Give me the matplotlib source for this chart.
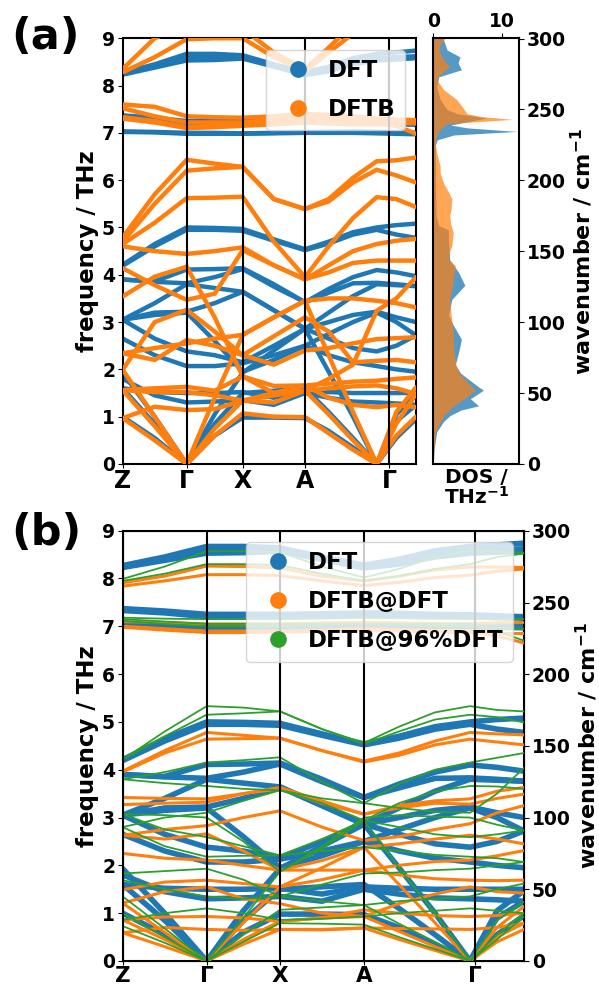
import numpy as np
import matplotlib
matplotlib.use("Agg")
import matplotlib.pyplot as plt
from matplotlib.lines import Line2D

plt.rcParams['font.family'] = ['DejaVu Sans']
plt.rcParams['font.weight'] = 'bold'
plt.rcParams['axes.labelweight'] = 'bold'
plt.rcParams['mathtext.fontset'] = 'dejavusans'
plt.rcParams['mathtext.default'] = 'bf'

THZ_TO_CM = 33.356

# ---- k-path (fractional position along path, and path distances) ----
K_FRAC = [0, 0.5, 1, 1.5, 2, 2.5, 3, 3.33, 3.67, 4, 4.5, 5]
PATH_A = [0, 64, 120, 182.3, 254, 293.3]
PATH_B = [0, 84, 157.3, 241.3, 347.3, 401.3]
TICKS_A = [0, 64, 120, 182.3, 266.3]
TICKS_B = [0, 84, 157.3, 241.3, 352.3]
TICK_LABELS = ['Z', 'Γ', 'X', 'A', 'Γ']

# ---- band frequencies (THz) at K_FRAC ----
DFT_BANDS = [
    [1.00, 0.55, 0.00, 0.60, 0.98, 0.98, 0.97, 0.70, 0.35, 0.00, 0.55, 0.95],
    [1.60, 0.85, 0.00, 0.85, 1.50, 1.55, 1.60, 1.10, 0.55, 0.00, 0.90, 1.25],
    [1.93, 1.00, 0.00, 1.05, 1.93, 2.40, 2.86, 1.95, 1.00, 0.00, 1.05, 1.47],
    [1.80, 1.45, 1.30, 1.32, 1.35, 1.25, 1.50, 1.40, 1.32, 1.30, 1.28, 1.25],
    [1.60, 1.52, 1.50, 1.50, 1.52, 1.40, 1.55, 1.52, 1.50, 1.50, 1.50, 1.50],
    [2.65, 2.30, 2.07, 2.07, 2.13, 2.30, 2.50, 2.30, 2.15, 2.07, 2.00, 1.95],
    [3.05, 2.65, 2.38, 2.30, 2.15, 2.50, 2.86, 2.65, 2.45, 2.38, 2.50, 2.72],
    [3.05, 3.15, 3.20, 2.60, 1.95, 2.20, 2.50, 2.75, 3.00, 3.20, 3.00, 2.72],
    [3.05, 3.20, 3.22, 3.40, 3.64, 3.25, 2.86, 3.00, 3.15, 3.22, 3.10, 3.00],
    [3.05, 3.40, 3.80, 3.72, 3.64, 3.25, 2.86, 3.20, 3.55, 3.80, 3.78, 3.76],
    [3.90, 3.86, 4.11, 4.12, 4.14, 3.80, 3.42, 3.70, 3.95, 4.10, 4.05, 3.97],
    [3.90, 3.85, 3.82, 3.95, 4.12, 3.75, 3.42, 3.62, 3.82, 3.83, 3.80, 3.76],
    [4.21, 4.65, 5.00, 4.99, 4.97, 4.75, 4.54, 4.70, 4.90, 5.00, 5.05, 5.08],
    [4.19, 4.60, 4.95, 4.95, 4.93, 4.72, 4.52, 4.66, 4.85, 4.95, 4.85, 4.78],
    [7.03, 7.02, 7.00, 7.00, 6.99, 7.00, 7.01, 7.02, 7.03, 7.02, 7.00, 7.00],
    [7.02, 7.01, 6.98, 6.98, 6.98, 6.99, 7.00, 7.00, 7.00, 6.99, 6.98, 6.97],
    [7.37, 7.32, 7.25, 7.25, 7.25, 7.26, 7.28, 7.27, 7.25, 7.24, 7.22, 7.20],
    [7.33, 7.28, 7.20, 7.20, 7.20, 7.20, 7.22, 7.21, 7.20, 7.20, 7.18, 7.17],
    [8.27, 8.45, 8.67, 8.67, 8.64, 8.45, 8.28, 8.40, 8.58, 8.67, 8.70, 8.74],
    [8.25, 8.40, 8.58, 8.58, 8.60, 8.42, 8.25, 8.35, 8.50, 8.58, 8.60, 8.62],
    [8.23, 8.38, 8.53, 8.54, 8.57, 8.40, 8.22, 8.30, 8.45, 8.53, 8.55, 8.58],
]

DFTB_BANDS = [
    [0.97, 0.50, 0.00, 0.60, 1.07, 1.00, 0.99, 0.65, 0.30, 0.00, 0.60, 1.00],
    [1.56, 0.80, 0.00, 0.75, 1.34, 1.45, 1.55, 1.05, 0.50, 0.00, 0.85, 1.48],
    [1.99, 1.00, 0.00, 1.40, 2.73, 3.10, 3.45, 2.30, 1.10, 0.00, 1.10, 1.62],
    [0.97, 1.21, 1.14, 1.16, 1.34, 1.50, 1.66, 1.40, 1.25, 1.20, 1.25, 1.20],
    [1.56, 1.60, 1.63, 1.55, 1.85, 1.65, 1.66, 1.70, 1.74, 1.76, 1.80, 1.83],
    [1.56, 1.52, 1.52, 1.45, 1.34, 1.30, 1.55, 1.60, 1.64, 1.66, 1.60, 1.48],
    [2.34, 2.20, 2.62, 2.50, 2.30, 2.70, 3.10, 2.80, 2.15, 2.18, 2.20, 2.15],
    [1.99, 3.00, 3.26, 2.80, 2.30, 2.10, 2.40, 2.45, 2.55, 2.64, 2.66, 2.68],
    [2.34, 2.45, 2.55, 2.65, 2.73, 3.10, 3.45, 3.50, 3.50, 3.45, 3.40, 3.31],
    [3.54, 3.96, 4.17, 3.10, 1.85, 1.50, 1.55, 1.80, 2.10, 3.24, 3.50, 3.95],
    [4.14, 3.78, 3.47, 3.60, 4.52, 4.20, 3.91, 4.05, 4.25, 4.30, 4.30, 4.30],
    [4.60, 4.50, 4.44, 4.50, 4.58, 4.20, 3.90, 4.20, 4.50, 4.65, 4.72, 4.76],
    [4.79, 5.70, 6.43, 6.35, 6.28, 5.60, 5.39, 5.60, 6.05, 6.40, 6.42, 6.48],
    [4.70, 5.50, 6.20, 6.25, 6.28, 5.60, 5.39, 5.55, 5.95, 6.22, 6.10, 5.95],
    [4.65, 5.10, 5.62, 5.63, 5.65, 4.70, 3.95, 4.60, 5.20, 5.64, 5.60, 5.43],
    [7.60, 7.55, 7.35, 7.33, 7.32, 7.35, 7.40, 7.38, 7.35, 7.30, 7.28, 7.27],
    [7.52, 7.35, 7.22, 7.22, 7.22, 7.28, 7.32, 7.30, 7.28, 7.25, 7.22, 7.20],
    [7.33, 7.25, 7.12, 7.15, 7.18, 7.20, 7.25, 7.22, 7.20, 7.20, 7.15, 6.98],
    [7.30, 7.22, 7.10, 7.12, 7.15, 7.18, 7.22, 7.20, 7.18, 7.18, 7.20, 7.22],
    [8.35, 9.00, 9.30, 9.30, 9.20, 8.70, 8.35, 8.80, 9.30, 9.50, 9.50, 9.50],
    [8.28, 8.60, 8.98, 9.00, 9.00, 8.60, 8.30, 8.70, 9.10, 9.30, 9.30, 9.30],
]

DFTB_AT_DFT_BANDS = [
    [0.59, 0.30, 0.00, 0.35, 0.66, 0.65, 0.69, 0.45, 0.22, 0.00, 0.40, 0.66],
    [0.86, 0.45, 0.00, 0.45, 0.83, 0.90, 0.93, 0.62, 0.30, 0.00, 0.50, 0.79],
    [1.21, 0.60, 0.00, 0.80, 1.55, 1.95, 2.38, 1.60, 0.80, 0.00, 0.70, 1.14],
    [0.59, 0.70, 0.66, 0.64, 0.66, 0.66, 0.69, 0.68, 0.67, 0.66, 0.70, 0.79],
    [0.86, 0.92, 0.93, 0.90, 0.83, 0.90, 1.07, 1.00, 0.95, 0.93, 0.95, 1.00],
    [1.21, 1.45, 1.55, 1.30, 1.20, 1.00, 0.93, 1.20, 1.40, 1.55, 1.45, 1.42],
    [1.49, 1.65, 1.69, 1.62, 1.55, 1.70, 1.90, 1.80, 1.72, 1.69, 1.68, 1.69],
    [2.25, 2.15, 2.11, 2.00, 1.90, 1.90, 1.90, 2.00, 2.08, 2.11, 2.20, 2.31],
    [2.63, 2.55, 2.66, 2.30, 1.90, 2.10, 2.38, 2.45, 2.55, 2.63, 2.55, 2.45],
    [2.63, 2.75, 2.83, 3.00, 3.14, 2.80, 2.52, 2.60, 2.75, 2.87, 3.10, 3.25],
    [3.27, 3.30, 3.32, 3.50, 3.63, 3.35, 3.07, 3.20, 3.30, 3.28, 3.40, 3.49],
    [3.42, 3.40, 3.39, 3.50, 3.60, 3.30, 3.07, 3.25, 3.35, 3.39, 3.55, 3.63],
    [3.97, 4.40, 4.78, 4.72, 4.66, 4.40, 4.18, 4.35, 4.60, 4.78, 4.75, 4.73],
    [3.95, 4.35, 4.64, 4.65, 4.66, 4.40, 4.16, 4.30, 4.52, 4.64, 4.58, 4.52],
    [7.00, 6.95, 6.90, 6.90, 6.90, 6.92, 6.95, 6.93, 6.91, 6.90, 6.85, 6.85],
    [6.98, 6.92, 6.87, 6.87, 6.88, 6.90, 6.92, 6.90, 6.88, 6.87, 6.80, 6.65],
    [7.10, 7.08, 7.05, 7.05, 7.05, 7.07, 7.08, 7.07, 7.06, 7.06, 7.07, 7.08],
    [7.91, 8.05, 8.26, 8.25, 8.22, 8.05, 7.95, 8.05, 8.18, 8.24, 8.24, 8.23],
    [7.84, 7.95, 8.08, 8.08, 8.06, 7.95, 7.85, 7.92, 8.02, 8.07, 8.15, 8.20],
]

DFTB_AT_96_BANDS = [
    [0.73, 0.38, 0.00, 0.40, 0.79, 0.78, 0.76, 0.50, 0.25, 0.00, 0.45, 0.93],
    [1.00, 0.50, 0.00, 0.55, 1.07, 1.12, 1.17, 0.78, 0.40, 0.00, 0.55, 1.00],
    [1.35, 0.68, 0.00, 0.90, 1.87, 2.35, 2.94, 1.95, 1.00, 0.00, 0.85, 1.24],
    [0.86, 1.00, 1.10, 1.00, 0.86, 0.88, 0.93, 1.00, 1.05, 1.10, 1.05, 1.00],
    [1.69, 1.50, 1.35, 1.30, 1.35, 1.25, 1.17, 1.25, 1.30, 1.35, 1.50, 1.62],
    [1.83, 1.88, 1.93, 1.70, 1.35, 1.60, 1.83, 1.85, 1.90, 1.93, 2.00, 2.07],
    [2.80, 2.40, 2.18, 2.20, 2.21, 2.30, 2.38, 2.30, 2.22, 2.18, 2.15, 2.07],
    [3.07, 2.75, 2.59, 2.40, 2.21, 2.55, 2.94, 2.80, 2.65, 2.59, 2.65, 2.73],
    [3.07, 3.05, 3.00, 2.50, 1.87, 2.40, 3.00, 3.05, 3.02, 3.00, 2.85, 2.73],
    [2.80, 3.00, 3.10, 3.35, 3.57, 3.40, 3.30, 3.20, 3.12, 3.10, 3.50, 4.04],
    [3.80, 3.72, 3.66, 3.60, 3.57, 3.30, 2.94, 3.30, 3.55, 3.66, 3.65, 3.60],
    [3.80, 3.95, 4.15, 4.20, 4.26, 3.75, 3.30, 3.70, 4.00, 4.15, 4.25, 4.35],
    [4.21, 4.80, 5.33, 5.30, 5.22, 4.85, 4.56, 4.90, 5.20, 5.33, 5.25, 5.22],
    [4.21, 4.70, 5.15, 5.18, 5.22, 4.85, 4.54, 4.80, 5.05, 5.15, 5.10, 4.99],
    [7.18, 7.16, 7.15, 7.15, 7.15, 7.17, 7.18, 7.17, 7.16, 7.15, 7.15, 7.15],
    [7.11, 7.05, 7.00, 7.00, 7.00, 7.02, 7.05, 7.03, 7.01, 7.00, 6.97, 6.95],
    [7.15, 7.10, 7.05, 7.05, 7.05, 7.05, 7.05, 7.05, 7.05, 7.05, 6.90, 6.70],
    [7.99, 8.25, 8.57, 8.57, 8.55, 8.25, 8.02, 8.20, 8.45, 8.57, 8.56, 8.54],
    [7.95, 8.10, 8.30, 8.30, 8.28, 8.10, 7.95, 8.05, 8.20, 8.30, 8.45, 8.52],
]

# ---- phonon DOS (wavenumber in cm^-1, DOS in THz^-1) ----
DOS_DFT_WN = [0, 10, 22.7, 30, 34, 38, 41, 46, 52, 58, 64, 70, 79, 88, 98, 105,
              116, 126, 135, 144, 158, 165, 168, 175, 200, 225, 228.6, 232,
              234.5, 237, 239, 244, 247, 250, 257, 266, 273, 278, 283, 287,
              292, 299, 300.2]
DOS_DFT = [0, 0.1, 0.5, 1.5, 2.4, 4.0, 6.6, 5.4, 7.3, 5.6, 4.0, 3.2, 3.7, 4.1,
           2.9, 2.2, 2.7, 4.6, 3.7, 2.4, 2.2, 2.2, 0.8, 0.4, 0.3, 0.3, 0.6,
           3.0, 12.2, 5.0, 2.5, 7.8, 3.5, 2.0, 1.0, 0.5, 0.8, 4.1, 3.6, 3.9,
           2.0, 1.5, 1.4]
DOS_DFTB_WN = [0, 10, 22.7, 34, 41, 46, 52, 58, 64, 70, 79, 93, 105, 116, 126,
               140, 144, 150, 154, 163, 170, 175, 180, 187, 192, 198, 205, 210,
               219, 225, 230, 235, 240, 243, 245, 247, 252, 257, 264, 271, 275,
               280, 285, 292, 296, 300.2]
DOS_DFTB = [0, 0.1, 0.3, 1.5, 3.0, 4.5, 6.1, 4.9, 3.8, 3.3, 3.0, 2.9, 2.6, 2.4,
            2.8, 3.2, 2.2, 2.4, 2.7, 2.9, 2.5, 2.4, 2.6, 2.7, 2.2, 1.5, 1.0,
            1.0, 0.5, 0.3, 0.4, 0.8, 2.0, 11.5, 7.0, 4.9, 4.2, 3.4, 1.5, 0.5,
            1.0, 2.4, 1.5, 0.8, 1.0, 1.7]

C_BLUE, C_ORANGE, C_GREEN = '#1f77b4', '#ff7f0e', '#2ca02c'
TICK_FS = 13.5
LABEL_FS = 16.5
RLABEL_FS = 16
LEG_FS = 16.5

fig = plt.figure(figsize=(5.99, 9.91), dpi=100)
axa = fig.add_axes([0.2048, 0.5318, 0.4897, 0.4296])
axd = fig.add_axes([0.7234, 0.5318, 0.1431, 0.4296])
axb = fig.add_axes([0.2048, 0.0303, 0.670, 0.4342])


def draw_bands(ax, bands, path, color, lw, z):
    x = np.interp(K_FRAC, np.arange(len(path)), path)
    for b in bands:
        ax.plot(x, b, color=color, lw=lw, zorder=z, solid_capstyle='round',
                solid_joinstyle='round')


def style_band_axes(ax, ticks, xmax, xfs):
    ax.set_xlim(0, xmax)
    ax.set_ylim(0, 9)
    ax.set_yticks(range(10))
    ax.set_xticks(ticks)
    ax.set_xticklabels(TICK_LABELS, fontsize=xfs, fontweight='bold')
    ax.tick_params(axis='x', pad=0.5, length=3)
    ax.tick_params(axis='y', labelsize=TICK_FS, pad=2)
    for t in ticks[1:]:
        ax.axvline(t, color='k', lw=1.5, zorder=6)
    for s in ax.spines.values():
        s.set_linewidth(1.5)
    ax.set_ylabel('frequency / THz', fontsize=LABEL_FS, labelpad=2)


# panel (a)
draw_bands(axa, DFT_BANDS, PATH_A, C_BLUE, 3.2, 2)
draw_bands(axa, DFTB_BANDS, PATH_A, C_ORANGE, 3.2, 3)
style_band_axes(axa, TICKS_A, PATH_A[-1], 17)
ha = [Line2D([], [], ls='none', marker='o', ms=11, color=C_BLUE),
      Line2D([], [], ls='none', marker='o', ms=11, color=C_ORANGE)]
leg = axa.legend(ha, ['DFT', 'DFTB'], loc='upper right', fontsize=LEG_FS,
                 handletextpad=0.3, labelspacing=0.7)
leg.set_zorder(10)

# DOS panel
axd.fill_betweenx(DOS_DFT_WN, 0, DOS_DFT, color=C_BLUE, alpha=0.75, lw=0)
axd.fill_betweenx(DOS_DFTB_WN, 0, DOS_DFTB, color=C_ORANGE, alpha=0.7, lw=0)
axd.set_xlim(0, 12.5)
axd.set_ylim(0, 9 * THZ_TO_CM)
axd.xaxis.tick_top()
axd.set_xticks([0, 10])
axd.xaxis.set_label_position('bottom')
axd.set_xlabel('DOS /\nTHz$^{-1}$', fontsize=14.5, labelpad=3,
               linespacing=0.95)
axd.yaxis.tick_right()
axd.yaxis.set_label_position('right')
axd.set_yticks(range(0, 301, 50))
axd.set_ylabel('wavenumber / cm$^{-1}$', fontsize=RLABEL_FS, labelpad=2)
axd.tick_params(labelsize=TICK_FS, pad=2)
for s in axd.spines.values():
    s.set_linewidth(1.5)

# panel (b)
draw_bands(axb, DFT_BANDS, PATH_B, C_BLUE, 4.0, 2)
draw_bands(axb, DFTB_AT_DFT_BANDS, PATH_B, C_ORANGE, 2.2, 3)
draw_bands(axb, DFTB_AT_96_BANDS, PATH_B, C_GREEN, 1.3, 4)
style_band_axes(axb, TICKS_B, PATH_B[-1], 15.5)
hb = [Line2D([], [], ls='none', marker='o', ms=11, color=c)
      for c in (C_BLUE, C_ORANGE, C_GREEN)]
legb = axb.legend(hb, ['DFT', 'DFTB@DFT', 'DFTB@96%DFT'], loc='upper right',
                  fontsize=LEG_FS, handletextpad=0.3, labelspacing=0.7)
legb.set_zorder(10)
ax2 = axb.twinx()
ax2.set_ylim(0, 9 * THZ_TO_CM)
ax2.set_yticks(range(0, 301, 50))
ax2.tick_params(labelsize=TICK_FS, pad=2)
ax2.set_ylabel('wavenumber / cm$^{-1}$', fontsize=RLABEL_FS, labelpad=2)

fig.text(0.018, 0.963, '(a)', fontsize=31, fontweight='bold', va='center')
fig.text(0.018, 0.462, '(b)', fontsize=31, fontweight='bold', va='center')

fig.savefig('out.png', dpi=100)
